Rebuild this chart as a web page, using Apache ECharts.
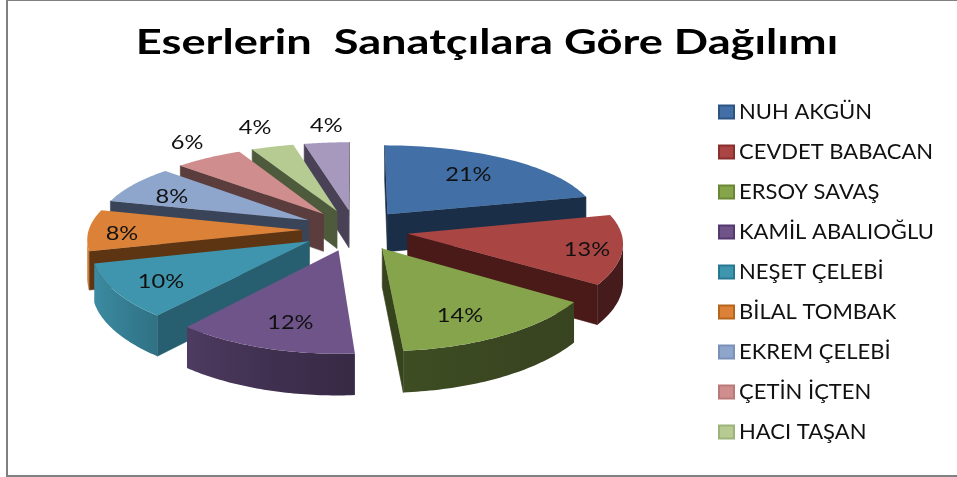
<!DOCTYPE html>
<html>
<head>
<meta charset="utf-8">
<style>html,body{margin:0;padding:0;background:#fff}#main{width:957px;height:477px}</style>
<script src="https://cdn.jsdelivr.net/npm/echarts@6/dist/echarts.min.js"></script>
</head>
<body>
<div id="main"></div>
<script>
var titleText = 'Eserlerin  Sanatçılara Göre Dağılımı';
var names = ['NUH AKGÜN', 'CEVDET BABACAN', 'ERSOY SAVAŞ', 'KAMİL ABALIOĞLU', 'NEŞET ÇELEBİ', 'BİLAL TOMBAK', 'EKREM ÇELEBİ', 'ÇETİN İÇTEN', 'HACI TAŞAN', ''];
// percent labels are rounded from these
var values = [21.3, 13.2, 14.3, 12.2, 10.0, 8.0, 7.8, 5.8, 3.6, 3.8];
var colors = ['#4270a6', '#a94543', '#86a44b', '#6f548a', '#3f95ad', '#db8238', '#8ea5cc', '#cf8e8d', '#b6cb92', '#a799bd'];
var wallColors = ['#1a2e47', '#4a1a18', '#37431d', '#3a2c4e', '#285f70', '#5e3512', '#3a4458', '#5a3d3c', '#4e5a3c', '#494256'];
var legendBorders = ['#2c5482', '#8a2f2d', '#6a8736', '#54396e', '#27788f', '#b5651d', '#7a90b8', '#b87a79', '#9cb37a', '#8c7ca6'];
// label place from the slice tip, in radius units: [across, down]
var labelFit = [[.415, -.55], [.82, .18], [.325, .69], [-.2, .727], [-.65, .44], [-.84, .04], [-.675, -.305], [-.73, -1.04], [-.45, -1.27], [-.124, -1.29]];

var cx = 355, cy = 230;   // pie centre on screen
var R = 213, RY = 82.6;   // radius across / down
var perspX = 0.095, perspY = 0.14;   // front is bigger than back
var explode = 0.25;
var total = values.reduce(function (a, b) { return a + b; }, 0);

function project(u, v) {
    return [cx + R * u / (1 - perspX * v), cy + RY * v / (1 - perspY * v)];
}
function depth(v) {
    return 38 + 3 * v;
}
function rimShade(hex, x) {
    // side of the pie gets darker to the right
    var f = 0.38 + 0.57 * Math.exp(-(x - 90) / 170);
    var n = parseInt(hex.slice(1), 16);
    return 'rgb(' + Math.round((n >> 16 & 255) * f) + ',' + Math.round((n >> 8 & 255) * f) + ',' + Math.round((n & 255) * f) + ')';
}

var starts = [], acc = 0;
values.forEach(function (v) { starts.push(acc); acc += v; });

function sliceInfo(i) {
    var a0 = starts[i] / total * Math.PI * 2;
    var a1 = (starts[i] + values[i]) / total * Math.PI * 2;
    var m = (a0 + a1) / 2;
    return { a0: a0, a1: a1, m: m, u: explode * Math.sin(m), v: -explode * Math.cos(m) };
}

function wall(a, b, fill) {
    // a->b runs clockwise on screen, only leftward runs face the viewer
    if (b.p[0] >= a.p[0]) return null;
    return {
        type: 'polygon',
        shape: { points: [a.p, b.p, [b.p[0], b.p[1] + depth(b.v)], [a.p[0], a.p[1] + depth(a.v)]] },
        style: { fill: fill, stroke: fill, lineWidth: 0.6 }
    };
}

// the curved side as one polygon with a left to right shade
function rimWall(rim, hex) {
    var run = rim.filter(function (r, k) {
        return (k > 0 && r.p[0] < rim[k - 1].p[0]) || (k < rim.length - 1 && rim[k + 1].p[0] < r.p[0]);
    });
    if (run.length < 2) return null;
    var xs = run.map(function (r) { return r.p[0]; });
    var x0 = Math.min.apply(null, xs), x1 = Math.max.apply(null, xs);
    var stops = [0, 0.25, 0.5, 0.75, 1].map(function (t) {
        return { offset: t, color: rimShade(hex, x0 + (x1 - x0) * t) };
    });
    var top = run.map(function (r) { return r.p; });
    var bottom = run.map(function (r) { return [r.p[0], r.p[1] + depth(r.v)]; }).reverse();
    return {
        type: 'polygon',
        shape: { points: top.concat(bottom) },
        style: { fill: { type: 'linear', x: x0, y: 0, x2: x1, y2: 0, global: true, colorStops: stops } }
    };
}

function makeRender(i) {
    return function () {
        var sl = sliceInfo(i), rim = [], k, n = 48;
        var tip = { v: sl.v, p: project(sl.u, sl.v) };
        for (k = 0; k <= n; k++) {
            var t = sl.a0 + (sl.a1 - sl.a0) * k / n;
            var u = sl.u + Math.sin(t), v = sl.v - Math.cos(t);
            rim.push({ v: v, p: project(u, v) });
        }
        var children = [];
        [wall(tip, rim[0], wallColors[i]), wall(rim[n], tip, wallColors[i]), rimWall(rim, colors[i])].forEach(function (w) {
            if (w) children.push(w);
        });
        children.push({
            type: 'polygon',
            shape: { points: [tip.p].concat(rim.map(function (r) { return r.p; })) },
            style: { fill: colors[i] }
        });
        var lp = project(sl.u + labelFit[i][0], sl.v + labelFit[i][1]);
        children.push({
            type: 'text',
            z2: 50,
            x: lp[0], y: lp[1], scaleX: 1.18,
            style: {
                text: Math.round(values[i]) + '%',
                fill: '#111', font: '20px Lato', textAlign: 'center', textVerticalAlign: 'middle'
            }
        });
        return { type: 'group', children: children };
    };
}

// back slices are drawn first
var order = values.map(function (v, i) { return i; }).sort(function (a, b) {
    return sliceInfo(a).v - sliceInfo(b).v;
});
var series = order.map(function (i) {
    return {
        type: 'custom',
        name: names[i],
        coordinateSystem: 'none',
        silent: true,
        itemStyle: { color: colors[i] },
        renderItem: makeRender(i),
        data: [[values[i]]]
    };
});

var legendData = names.slice(0, 9).map(function (n, i) {
    return { name: n, icon: 'rect', itemStyle: { color: colors[i], borderColor: legendBorders[i], borderWidth: 2 } };
});

var myChart = echarts.init(document.getElementById('main'));
myChart.setOption({
    animation: false,
    backgroundColor: '#fff',
    legend: {
        orient: 'vertical',
        left: 718, top: 101, padding: 0,
        itemWidth: 15, itemHeight: 13, itemGap: 18,
        selectedMode: false,
        textStyle: { fontFamily: 'Lato', fontSize: 22, color: '#111' },
        data: legendData
    },
    graphic: [
        { type: 'rect', shape: { x: 6, y: 0, width: 2, height: 477 }, style: { fill: '#808080' } },
        { type: 'rect', shape: { x: 6, y: 0, width: 951, height: 1 }, style: { fill: '#808080' } },
        { type: 'rect', shape: { x: 6, y: 475, width: 951, height: 2 }, style: { fill: '#808080' } },
        {
            type: 'text', x: 487, y: 43, scaleX: 1.33,
            style: { text: titleText, font: 'bold 34px Lato', fill: '#000', textAlign: 'center', textVerticalAlign: 'middle' }
        }
    ],
    series: series
});
</script>
</body>
</html>
